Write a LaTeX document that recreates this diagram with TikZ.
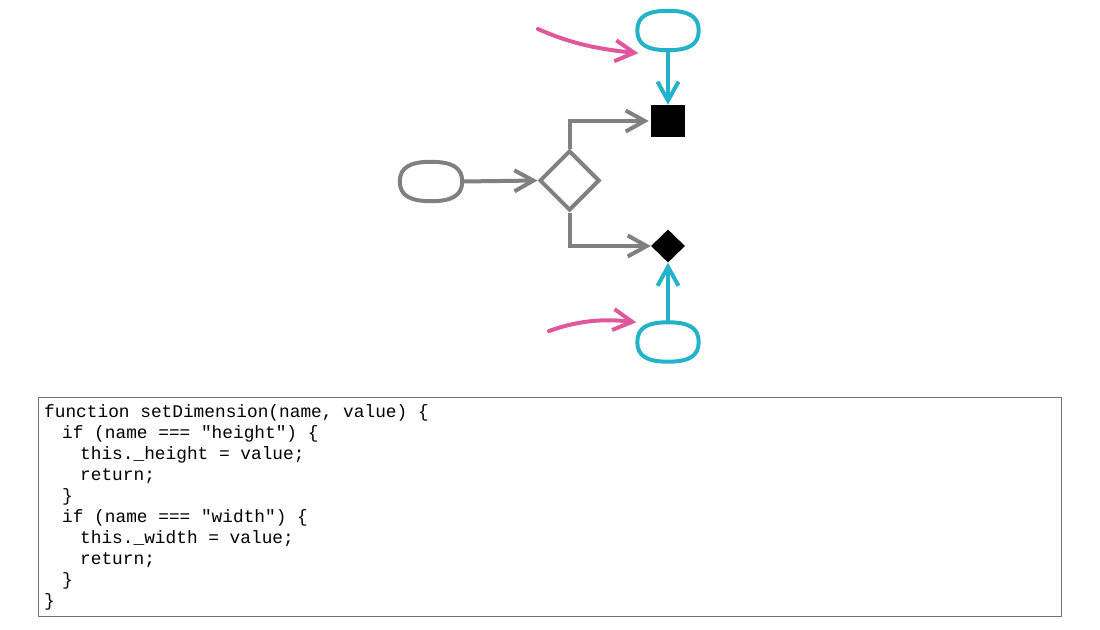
\documentclass[tikz,border=0pt]{standalone}
\usepackage{fontspec}
\setmonofont{Liberation Mono}
\usetikzlibrary{arrows.meta,shapes.geometric}
\definecolor{cy}{HTML}{22B3C9}
\definecolor{pk}{HTML}{E0579B}
\definecolor{gr}{HTML}{808080}
\definecolor{bx}{HTML}{707070}
\newcommand{\squircle}[2]{% #1 node name, #2 colour
  \draw[#2,line width=4pt]
    (#1.north) .. controls ([xshift=21pt]#1.north) and ([yshift=14pt]#1.east) .. (#1.east)
    .. controls ([yshift=-14pt]#1.east) and ([xshift=21pt]#1.south) .. (#1.south)
    .. controls ([xshift=-21pt]#1.south) and ([yshift=-14pt]#1.west) .. (#1.west)
    .. controls ([yshift=14pt]#1.west) and ([xshift=-21pt]#1.north) .. cycle;}
\newcommand{\ind}{\hspace*{18pt}}
\begin{document}
\begin{tikzpicture}[x=1pt,y=-1pt,
  barb/.tip={Straight Barb[length=19pt,width=21pt]},
  stad/.style={minimum width=61pt,minimum height=39pt,inner sep=0pt},
  gconn/.style={draw=gr,line width=4pt,-barb},
  cconn/.style={draw=cy,line width=4pt,-barb},
  pconn/.style={draw=pk,line width=4pt,-barb,line cap=round},
  blk/.style={fill=black,inner sep=0pt},
  code/.style={anchor=base west,inner sep=0pt,font=\ttfamily\fontsize{17.8}{21}\selectfont}]
\useasboundingbox (0,0) rectangle (1100,629);
% nodes
\node[stad] (top) at (668,30.5) {};
\node[stad] (bot) at (668,342) {};
\node[stad,minimum width=62pt] (gs) at (431,181.5) {};
\squircle{top}{cy}
\squircle{bot}{cy}
\squircle{gs}{gr}
\node[diamond,draw=gr,line width=4pt,minimum width=60pt,minimum height=60pt,inner sep=0pt] (dia) at (569.5,180.5) {};
\node[blk,minimum width=34pt,minimum height=32pt] (sq) at (668,121) {};
\node[blk,diamond,minimum width=34pt,minimum height=33pt] (bd) at (668,246) {};
\coordinate (p1) at (538,29);
\coordinate (p2) at (549,331);
% connectors
\draw[gconn] (gs.east) -- (dia.west);
\draw[gconn,shorten >=2pt] (dia.north) |- (sq.west);
\draw[gconn] (dia.south) |- (bd.west);
\draw[cconn] (top.south) -- (sq.north);
\draw[cconn] (bot.north) -- (bd.south);
\draw[pconn] (p1) .. controls (572,44) and (598,49) .. ([xshift=1pt,yshift=-3pt]top.south west);
\draw[pconn] (p2) .. controls (574,322) and (600,318) .. ([xshift=-1pt]bot.north west);
% code box
\draw[bx,line width=1pt] (38,397) rectangle (1061,616);
\node[code] (c1) at (44,417) {function setDimension(name, value) \{};
\node[code] (c2) at (44,438) {\ind if (name === "height") \{};
\node[code] (c3) at (44,459) {\ind\ind this.\_height = value;};
\node[code] (c4) at (44,480) {\ind\ind return;};
\node[code] (c5) at (44,501) {\ind\}};
\node[code] (c6) at (44,522) {\ind if (name === "width") \{};
\node[code] (c7) at (44,543) {\ind\ind this.\_width = value;};
\node[code] (c8) at (44,564) {\ind\ind return;};
\node[code] (c9) at (44,585) {\ind\}};
\node[code] (c10) at (44,606) {\}};
\end{tikzpicture}
\end{document}
